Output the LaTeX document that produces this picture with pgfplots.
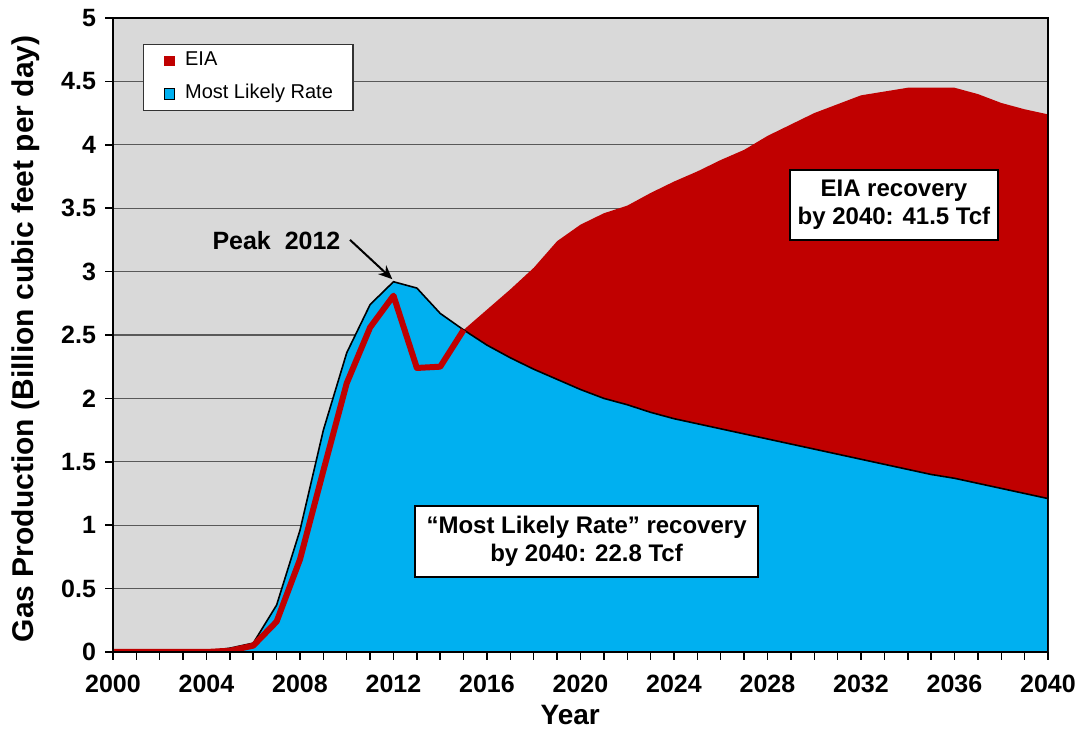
\documentclass[border=0pt]{standalone}
\usepackage{fontspec}
\setmainfont{Liberation Sans}
\usepackage{pgfplots}
\pgfplotsset{compat=1.18}
\usepackage{pgfplotstable}
\usetikzlibrary{arrows.meta}

\definecolor{eiared}{RGB}{192,0,0}
\definecolor{mlrblue}{RGB}{0,176,240}
\definecolor{bggray}{RGB}{217,217,217}

% year, EIA, most likely rate (Bcf/d)
\pgfplotstableread{
year eia  mlr
2000 0    0
2001 0    0
2002 0    0
2003 0    0
2004 0    0.005
2005 0.01 0.03
2006 0.05 0.07
2007 0.24 0.37
2008 0.73 0.96
2009 1.43 1.75
2010 2.12 2.36
2011 2.56 2.74
2012 2.81 2.92
2013 2.24 2.87
2014 2.25 2.67
2015 2.54 2.54
2016 2.70 2.42
2017 2.86 2.32
2018 3.03 2.23
2019 3.24 2.15
2020 3.37 2.07
2021 3.46 2.00
2022 3.52 1.95
2023 3.62 1.89
2024 3.71 1.84
2025 3.79 1.80
2026 3.88 1.76
2027 3.96 1.72
2028 4.07 1.68
2029 4.16 1.64
2030 4.25 1.60
2031 4.32 1.56
2032 4.39 1.52
2033 4.42 1.48
2034 4.45 1.44
2035 4.45 1.40
2036 4.45 1.37
2037 4.40 1.33
2038 4.33 1.29
2039 4.28 1.25
2040 4.24 1.21
}\gasdata

\begin{document}
\begin{tikzpicture}
\begin{axis}[
    scale only axis,
    width=467.5pt, height=317pt,
    xmin=2000, xmax=2040,
    ymin=0, ymax=5,
    xtick={2000,2004,...,2040},
    minor xtick={2000,2001,...,2040},
    ytick={0,0.5,1,1.5,2,2.5,3,3.5,4,4.5,5},
    xtick pos=bottom, ytick pos=left,
    tick align=outside,
    major tick length=4pt, minor tick length=4pt,
    every tick/.style={black, line width=0.75pt},
    minor tick style={black, line width=0.75pt},
    ymajorgrids,
    grid style={black!65, line width=0.6pt},
    axis background/.style={fill=bggray},
    axis line style={black, line width=1pt},
    /pgf/number format/assume math mode=true,
    /pgf/number format/1000 sep={},
    tick label style={font=\bfseries\fontsize{12.5}{15}\selectfont},
    yticklabel style={anchor=east, xshift=-1pt},
    xticklabel style={anchor=base, yshift=-16.5pt},
    xlabel={Year},
    ylabel={Gas Production (Billion cubic feet per day)},
    every axis x label/.style={at={([yshift=-36.5pt]axis description cs:0.489,0)}, anchor=base,
        font=\bfseries\fontsize{14}{17}\selectfont},
    every axis y label/.style={at={([xshift=-43.5pt]axis description cs:0,0.494)}, anchor=center, rotate=90,
        font=\bfseries\fontsize{15}{18}\selectfont},
    legend style={at={(axis description cs:0.032,0.959)}, anchor=north west,
        draw=black!80, line width=0.6pt, fill=white,
        font=\fontsize{10}{12}\selectfont,
        inner xsep=10pt, inner ysep=3.2pt,
        row sep=6.5pt, column sep=5pt,
        nodes={inner sep=0pt, text height=7.5pt, text depth=2.5pt}},
    legend cell align=left,
    legend image code/.code={\path[#1, line width=0.6pt] (0pt,-2.6pt) rectangle (5.2pt,2.6pt);},
]
\addplot[fill=eiared, draw=none] table[x=year, y=eia] {\gasdata} \closedcycle;
\addplot[fill=mlrblue, draw=black, line width=0.8pt] table[x=year, y=mlr] {\gasdata} \closedcycle;
\addplot[eiared, line width=3pt, line join=round, forget plot,
    restrict x to domain=2000:2015] table[x=year, y=eia] {\gasdata};
\legend{EIA, Most Likely Rate}

\draw[black, line width=1pt] (rel axis cs:0,0) rectangle (rel axis cs:1,1);
\coordinate (psw) at (rel axis cs:0,0);
\coordinate (pne) at (rel axis cs:1,1);

\node[anchor=base west, inner sep=0pt, font=\bfseries\fontsize{12.5}{15}\selectfont]
    at (axis cs:2004.24,3.178) {Peak\ \ 2012};
\draw[-{Stealth[length=7pt,width=6pt]}, line width=1pt] (axis cs:2010.14,3.25) -- (axis cs:2011.95,2.94);

\node[draw=black, line width=0.8pt, fill=white, align=center,
      minimum width=104pt, minimum height=35pt, inner sep=0pt,
      font=\bfseries\fontsize{12}{14}\selectfont]
    at (axis cs:2033.41,3.525) {EIA recovery\\by 2040: 41.5 Tcf};
\node[draw=black, line width=0.8pt, fill=white, align=center,
      minimum width=171.5pt, minimum height=35.5pt, inner sep=0pt,
      font=\bfseries\fontsize{12}{14}\selectfont]
    at (axis cs:2020.26,0.871) {“Most Likely Rate” recovery\\by 2040: 22.8 Tcf};
\end{axis}
\pgfresetboundingbox
\path ([shift={(-56.5pt,-42pt)}]psw) rectangle ([shift={(15pt,9pt)}]pne);
\end{tikzpicture}
\end{document}
